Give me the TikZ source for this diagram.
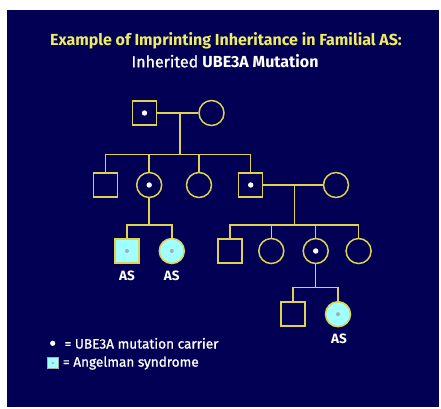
\documentclass[tikz,border=0pt]{standalone}
\usepackage{fontspec}
\setmainfont{Fira Sans}
\newfontfamily\medfont{Fira Sans}[FakeBold=1]
\usetikzlibrary{positioning}
\definecolor{bg}{RGB}{2,0,84}
\definecolor{ln}{RGB}{222,210,80}
\definecolor{ttl}{RGB}{238,236,96}
\definecolor{as}{RGB}{160,255,255}
\definecolor{dotg}{RGB}{170,170,170}
\tikzset{
	male/.style={draw=ln, line width=1.5pt, minimum size=24pt, inner sep=0pt},
	female/.style={male, circle, minimum size=25pt},
	affected/.style={fill=as, path picture={\fill[dotg] (path picture bounding box.center) circle (2pt);}},
	carrier/.style={path picture={\fill[white] (path picture bounding box.center) circle (2.7pt);}},
	rel/.style={draw=ln, line width=1.5pt},
	lbl/.style={text=white, font=\bfseries\fontsize{13.5}{15}\selectfont, inner sep=0pt},
	legtext/.style={text=white, font=\medfont\fontsize{13.6}{15}\selectfont, anchor=west, inner sep=0pt}
}

\begin{document}
\begin{tikzpicture}[x=1pt, y=-1pt]
	\useasboundingbox (0,0) rectangle (441,408);
	\fill[bg] (7,10) rectangle (439,407);
	
	\node[text=ttl, font=\bfseries\fontsize{16}{18}\selectfont] (t1) at (226,41) {Example of Imprinting Inheritance in Familial AS:};
	\node[text=white, font=\fontsize{16}{18}\selectfont] (t2) at (225,61) {{\medfont Inherited} \textbf{UBE3A Mutation}};
	
	% generation I
	\node[male, carrier] (gf) at (144.5,113) {};
	\node[female] (gm) at (211.5,113) {};
	\draw[rel] (gf) -- (gm);
	\coordinate (c1) at (180,113);
	\coordinate (s1) at (180,154.3);
	\draw[rel] (c1) -- (s1);
	
	% generation II
	\node[male] (u1) at (105.7,185) {};
	\node[female, carrier] (m2) at (149.2,185) {};
	\node[female] (a3) at (199,185) {};
	\node[male, carrier] (f4) at (250.7,185) {};
	\node[female] (w4) at (336,185) {};
	\draw[rel] (u1) |- (s1) -| (f4);
	\draw[rel] (m2) -- (m2 |- s1);
	\draw[rel] (a3) -- (a3 |- s1);
	\draw[rel] (f4) -- (w4);
	\coordinate (c2) at (294.3,185);
	\coordinate (s2) at (294.3,225);
	\draw[rel] (c2) -- (s2);
	
	% generation III, left
	\coordinate (s3) at (149.2,225);
	\node[male, affected] (k1) at (127,251) {};
	\node[female, affected] (k2) at (171.8,251) {};
	\draw[rel] (m2) -- (s3);
	\draw[rel] (k1) |- (s3) -| (k2);
	\node[lbl] (k1l) at (127,275.7) {AS};
	\node[lbl] (k2l) at (171.8,275.7) {AS};
	
	% generation III, right
	\node[male] (b1) at (230,251) {};
	\node[female] (b2) at (271.3,251) {};
	\node[female, carrier] (b3) at (315.7,251) {};
	\node[female] (b4) at (358.6,251) {};
	\draw[rel] (b1) |- (s2) -| (b4);
	\draw[rel] (b2) -- (b2 |- s2);
	\draw[rel] (b3) -- (b3 |- s2);
	
	% generation IV
	\coordinate (s4) at (315.7,287.3);
	\node[male] (g1) at (293.2,314.2) {};
	\node[female, affected] (g2) at (338,314.2) {};
	\draw[rel] (b3) -- (s4);
	\draw[rel] (g1) |- (s4) -| (g2);
	\node[lbl] (g2l) at (339,339) {AS};
	
	% legend
	\fill[white] (52.7,343.3) circle (2.6pt);
	\node[legtext] (lg1) at (64.3,343.3) {= UBE3A mutation carrier};
	\node[draw=dotg, line width=0.8pt, fill=as, minimum size=11.5pt, inner sep=0pt] (lgs) at (52.8,363) {};
	\fill[dotg] (lgs.center) circle (1.3pt);
	\node[legtext] (lg2) at (62.7,363) {= Angelman syndrome};
\end{tikzpicture}
\end{document}
